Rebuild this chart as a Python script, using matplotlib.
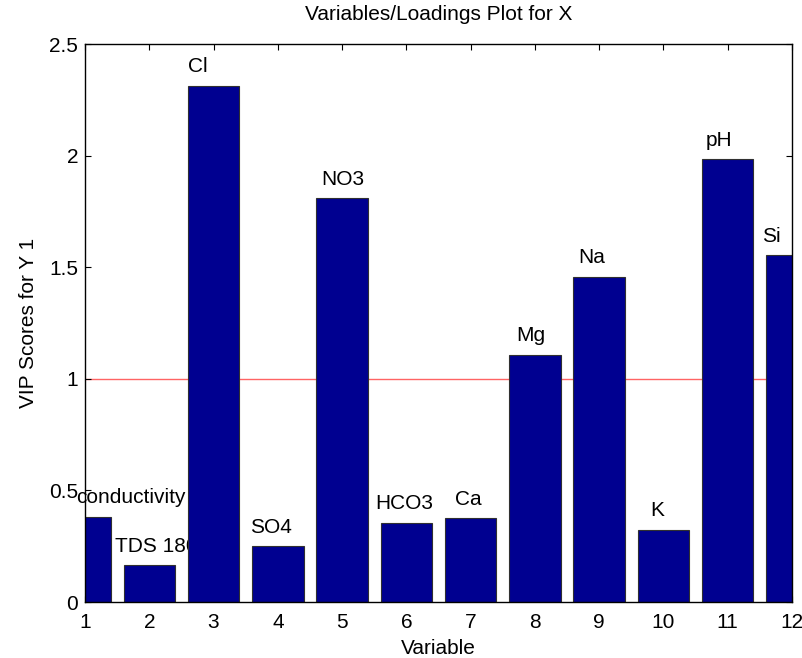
import matplotlib
matplotlib.use("Agg")
import matplotlib.pyplot as plt

# donnees
variables = [1, 2, 3, 4, 5, 6, 7, 8, 9, 10, 11, 12]
vip = [0.382, 0.164, 2.312, 0.251, 1.809, 0.355, 0.375, 1.107, 1.457,
       0.324, 1.983, 1.553]
noms = ['conductivity', 'TDS 180', 'Cl', 'SO4', 'NO3', 'HCO3', 'Ca', 'Mg',
        'Na', 'K', 'pH', 'Si']
# decalage horizontal des etiquettes (unites de l'axe x)
decalage = [-0.14, -0.53, -0.4, -0.43, -0.32, -0.49, -0.25, -0.29, -0.33,
            -0.2, -0.35, -0.46]
seuil = 1

plt.rcParams['font.family'] = ['Liberation Sans', 'DejaVu Sans']
taille = 15

fig = plt.figure(figsize=(8.03, 6.58), dpi=100)
ax = fig.add_axes([85 / 803, 1 - 602 / 658, 707 / 803, 558 / 658])

ax.axhline(seuil, color='#ff3030', linewidth=1.0, alpha=0.75, zorder=1)
ax.bar(variables, vip, width=0.8, color='#000090', edgecolor='#303030',
       linewidth=0.8, zorder=3)

for x, y, nom, dx in zip(variables, vip, noms, decalage):
    ax.text(x + dx, y + 0.085, nom, ha='left', va='center', fontsize=taille,
            clip_on=False, zorder=2)

ax.set_xlim(1, 12)
ax.set_ylim(0, 2.5)
ax.set_xticks(variables)
ax.set_yticks([0, 0.5, 1, 1.5, 2, 2.5])
ax.set_yticklabels(['0', '0.5', '1', '1.5', '2', '2.5'])
ax.tick_params(direction='in', top=True, right=True, length=4, width=0.8,
               labelsize=taille)
ax.tick_params(axis='x', pad=8)
ax.tick_params(axis='y', pad=5)
for s in ax.spines.values():
    s.set_linewidth(1.0)
    s.set_zorder(4)

ax.set_xlabel('Variable', fontsize=taille, labelpad=5)
ax.set_ylabel('VIP Scores for Y 1', fontsize=taille, labelpad=8)
ax.set_title('Variables/Loadings Plot for X', fontsize=taille, pad=17)

fig.savefig('out.png', dpi=100)
